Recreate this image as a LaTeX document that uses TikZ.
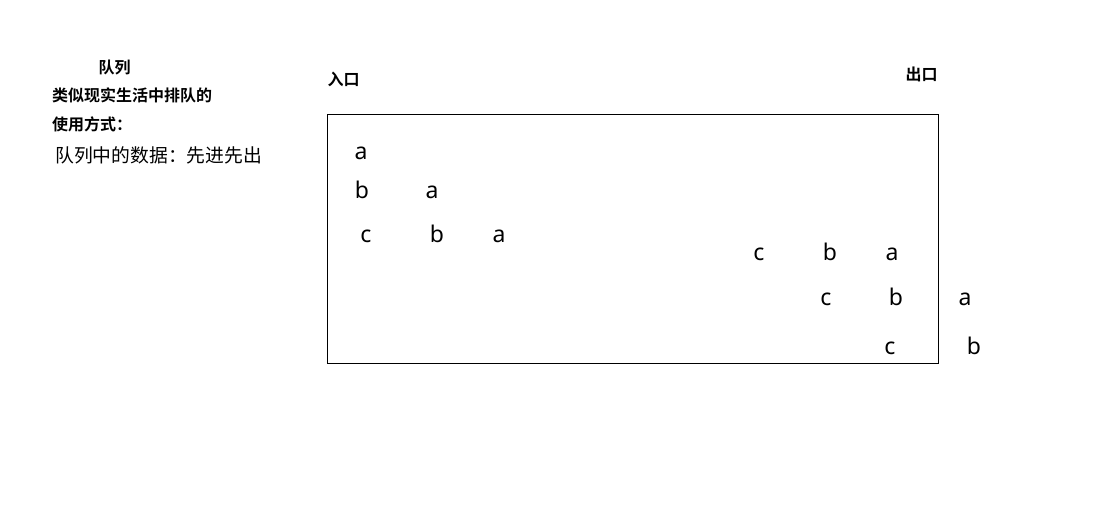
\documentclass[tikz,border=0pt]{standalone}
\usepackage{fontspec}
\newfontfamily\cjk{Noto Sans CJK SC}
\newfontfamily\cjkb{Noto Sans CJK SC Bold}
\newfontfamily\lat{Noto Sans}
\begin{document}
\begin{tikzpicture}[x=1pt,y=-1pt,
  head/.style={inner sep=0pt,font=\cjkb\fontsize{16}{19}\selectfont},
  body/.style={inner sep=0pt,font=\cjk\fontsize{18.8}{22}\selectfont},
  letter/.style={inner sep=0pt,anchor=base,font=\lat\fontsize{23}{26}\selectfont},
  queuebox/.style={draw=black,line width=1pt}]
\useasboundingbox (0,0) rectangle (1116,522);
\fill[white] (0,0) rectangle (1116,522);
\node[head] (t1) at (114.5,67.5) {队列};
\node[head,anchor=west] (t2) at (52,95.5) {类似现实生活中排队的};
\node[head,anchor=west] (t3) at (52,124.5) {使用方式：};
\node[body,anchor=west] (t4) at (55,155) {队列中的数据：先进先出};
\node[head] (in) at (343.5,79) {入口};
\node[head] (out) at (921.5,74) {出口};
\node[queuebox,inner sep=0pt,minimum width=611pt,minimum height=249pt,anchor=north west] (box) at (327,114) {};
% left group
\node[letter] (l1a) at (361,159) {a};
\node[letter] (l2b) at (362,198) {b};
\node[letter] (l2a) at (432,198) {a};
\node[letter] (l3c) at (366,242) {c};
\node[letter] (l3b) at (437,242) {b};
\node[letter] (l3a) at (499,242) {a};
% right group
\node[letter] (r1c) at (759,260) {c};
\node[letter] (r1b) at (830,260) {b};
\node[letter] (r1a) at (892,260) {a};
\node[letter] (r2c) at (826,305) {c};
\node[letter] (r2b) at (896,305) {b};
\node[letter] (r2a) at (965,305) {a};
\node[letter] (r3c) at (890,354) {c};
\node[letter] (r3b) at (974,354) {b};
\end{tikzpicture}
\end{document}
